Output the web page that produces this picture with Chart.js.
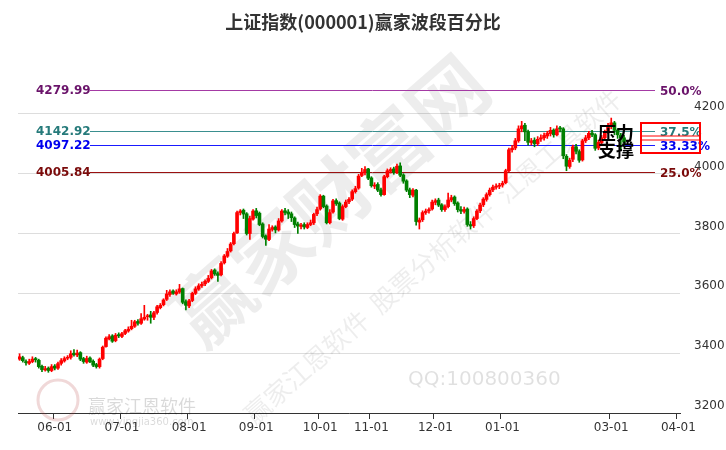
<!DOCTYPE html>
<html><head><meta charset="utf-8">
<script src="https://cdn.jsdelivr.net/npm/chart.js@4/dist/chart.umd.min.js"></script>
<style>html,body{margin:0;background:#fff}#wrap{width:726px;height:450px}</style>
</head><body><div id="wrap"><canvas id="c"></canvas></div>
<script>
const opens=[3380,3385,3372,3366,3372,3382,3376,3356,3344,3350,3342,3357,3350,3366,3374,3383,3386,3400,3394,3402,3382,3370,3384,3373,3362,3355,3382,3422,3448,3458,3442,3462,3456,3466,3474,3482,3490,3506,3500,3514,3522,3528,3520,3536,3552,3562,3580,3596,3608,3598,3604,3616,3572,3558,3576,3600,3614,3626,3632,3640,3652,3678,3666,3662,3702,3724,3742,3766,3802,3870,3878,3866,3800,3848,3876,3868,3832,3792,3780,3814,3822,3812,3842,3876,3872,3866,3852,3832,3824,3830,3820,3830,3836,3866,3882,3925,3892,3836,3872,3910,3902,3848,3890,3906,3915,3940,3952,3994,4004,4016,3986,3958,3964,3946,3930,3990,4008,4016,4004,4026,3996,3976,3946,3928,3945,3838,3846,3870,3876,3882,3904,3912,3896,3880,3890,3912,3922,3902,3880,3874,3882,3830,3826,3850,3876,3896,3914,3930,3946,3955,3958,3962,3970,4010,4080,4086,4110,4150,4162,4140,4104,4112,4100,4116,4120,4126,4134,4146,4130,4152,4150,4058,4024,4048,4090,4074,4046,4110,4120,4136,4130,4086,4104,4120,4140,4158,4170,4146,4128,4120];
const highs=[3398,3390,3378,3380,3388,3386,3380,3360,3356,3354,3362,3362,3370,3382,3388,3392,3408,3412,3410,3405,3386,3390,3388,3378,3366,3384,3424,3455,3462,3462,3466,3468,3470,3480,3488,3510,3510,3512,3532,3560,3530,3540,3540,3560,3566,3582,3610,3612,3612,3612,3630,3618,3578,3580,3604,3622,3632,3638,3645,3660,3680,3682,3672,3706,3730,3750,3770,3805,3875,3880,3882,3870,3858,3880,3884,3872,3836,3796,3830,3826,3826,3850,3880,3884,3880,3872,3856,3838,3834,3836,3836,3845,3868,3888,3930,3928,3896,3880,3914,3916,3906,3896,3912,3920,3946,3958,3998,4018,4024,4018,3990,3970,3970,3952,3995,4016,4020,4022,4032,4036,4000,3980,3952,3950,3948,3852,3876,3882,3886,3912,3916,3918,3900,3896,3935,3928,3926,3906,3890,3888,3886,3840,3856,3880,3902,3920,3936,3952,3962,3966,3968,3975,4015,4086,4095,4118,4160,4175,4168,4146,4118,4120,4124,4130,4136,4142,4155,4150,4160,4158,4154,4064,4052,4096,4098,4080,4115,4128,4142,4145,4134,4112,4128,4146,4168,4186,4175,4150,4135,4128];
const lows=[3376,3370,3360,3362,3368,3370,3350,3338,3340,3336,3338,3344,3346,3360,3370,3378,3380,3390,3388,3375,3366,3366,3368,3355,3350,3350,3378,3420,3444,3436,3438,3452,3452,3462,3470,3478,3486,3494,3496,3510,3510,3500,3512,3530,3548,3558,3576,3590,3596,3594,3600,3565,3545,3552,3572,3596,3610,3620,3626,3636,3648,3660,3640,3658,3698,3720,3738,3762,3800,3862,3850,3795,3780,3845,3852,3826,3785,3760,3776,3808,3802,3808,3838,3862,3850,3840,3820,3800,3815,3815,3816,3826,3830,3860,3878,3886,3832,3832,3868,3894,3846,3844,3886,3900,3910,3935,3948,3990,3996,3980,3955,3950,3940,3925,3928,3986,4002,3998,4000,3990,3968,3940,3920,3922,3828,3815,3840,3864,3868,3878,3896,3890,3874,3874,3886,3906,3894,3872,3866,3868,3824,3815,3820,3846,3870,3890,3908,3925,3940,3948,3950,3955,3966,4006,4072,4080,4105,4140,4110,4095,4096,4090,4094,4108,4112,4118,4126,4122,4126,4140,4050,4010,4018,4040,4066,4038,4042,4104,4114,4124,4078,4080,4098,4114,4134,4150,4130,4118,4080,4092];
const closes=[3388,3375,3368,3372,3380,3378,3355,3345,3348,3342,3355,3350,3365,3375,3382,3385,3398,3395,3400,3380,3372,3382,3372,3360,3355,3380,3420,3450,3455,3440,3460,3458,3465,3475,3480,3490,3505,3500,3515,3520,3525,3520,3535,3555,3560,3578,3598,3605,3600,3605,3615,3570,3560,3575,3600,3615,3625,3630,3640,3650,3675,3665,3660,3700,3725,3740,3765,3800,3870,3875,3865,3800,3850,3875,3860,3830,3790,3781,3815,3820,3812,3842,3875,3870,3865,3853,3830,3825,3828,3822,3830,3836,3864,3880,3925,3890,3836,3870,3909,3900,3850,3890,3905,3914,3940,3950,3992,4005,4014,3985,3960,3962,3945,3930,3990,4010,4014,4005,4025,3995,3975,3945,3930,3945,3840,3845,3870,3875,3880,3905,3910,3895,3880,3890,3912,3920,3900,3880,3875,3880,3830,3825,3850,3875,3895,3915,3930,3945,3955,3958,3960,3968,4010,4080,4085,4110,4150,4160,4140,4105,4110,4100,4115,4120,4128,4135,4145,4130,4150,4150,4060,4025,4045,4090,4075,4045,4110,4120,4135,4130,4085,4105,4120,4140,4160,4170,4145,4130,4120,4105];
const monthIdx=[11,32,53,74,94,110,130,151,185,206];
const monthText=['06-01','07-01','08-01','09-01','10-01','11-01','12-01','01-01','03-01','04-01'];
const levelValues=[4279.99,4142.92,4097.22,4005.84];
const levelPct=['50.0%','37.5%','33.33%','25.0%'];
const levelColors=['#a43aa4','#3a8f8f','#1a1aff','#9a1010'];
const levelTextColors=['#6a136a','#257a7a','#0000ee','#7a0a0a'];
const yTicks=[3200,3400,3600,3800,4000,4200];
const nSlots=207;

const labels=[];for(let i=0;i<nSlots;i++)labels.push(String(i));
const up=closes.map((c,i)=>c>=opens[i]);
const col=up.map(u=>u?'#ff0000':'#008000');

const overlay={id:'overlay',
beforeDatasetsDraw(ch){const {ctx,chartArea:a,scales:{y}}=ch;ctx.save();
 ctx.fillStyle='rgba(0,0,0,0.07)';
 ctx.translate(330,200);ctx.rotate(-0.72);ctx.font='bold 78px "Noto Sans CJK SC"';ctx.textAlign='center';ctx.textBaseline='middle';
 ctx.fillText('赢家财富网',0,0);
 ctx.font='26px "Noto Sans CJK SC"';ctx.fillText('赢家江恩软件  股票分析软件  江恩工具软件',40,110);
 ctx.setTransform(1,0,0,1,0,0);
 ctx.fillStyle='rgba(0,0,0,0.12)';ctx.font='20px "DejaVu Sans"';ctx.textAlign='left';ctx.fillText('QQ:100800360',408,380);
 ctx.fillStyle='rgba(0,0,0,0.15)';ctx.font='18px "Noto Sans CJK SC"';ctx.fillText('赢家江恩软件',88,406);
 ctx.font='10px "DejaVu Sans"';ctx.fillText('www.yingjia360.com',90,422);
 ctx.strokeStyle='rgba(180,60,60,0.2)';ctx.lineWidth=3;ctx.beginPath();ctx.arc(58,400,20,0,Math.PI*2);ctx.stroke();
 levelValues.forEach((v,i)=>{const py=Math.round(y.getPixelForValue(v))+0.5;
  ctx.strokeStyle=levelColors[i];ctx.lineWidth=1;ctx.beginPath();ctx.moveTo(90,py);ctx.lineTo(655,py);ctx.stroke();
  ctx.font='bold 12px "DejaVu Sans"';ctx.textBaseline='middle';ctx.textAlign='left';ctx.fillStyle=levelTextColors[i];
  ctx.fillText(v.toFixed(2),36,py);ctx.fillText(levelPct[i],660,py+1);});
 ctx.restore();},
afterDatasetsDraw(ch){const {ctx}=ch;ctx.save();
 ctx.strokeStyle='#ff0000';ctx.lineWidth=2;ctx.strokeRect(641,123,59,30);
 ctx.lineWidth=1;ctx.beginPath();ctx.moveTo(641,136);ctx.lineTo(700,136);ctx.moveTo(641,140);ctx.lineTo(700,140);ctx.stroke();
 ctx.fillStyle='#000';ctx.font='bold 18px "Noto Sans CJK SC"';ctx.textBaseline='middle';ctx.textAlign='left';
 ctx.fillText('压力',598,133);ctx.fillText('支撑',598,150);
 ctx.fillStyle='#333';ctx.font='bold 18px "Noto Sans CJK SC"';ctx.textAlign='center';ctx.fillText('上证指数(000001)赢家波段百分比',363,22);
 ctx.restore();}};

new Chart(document.getElementById('c'),{type:'bar',
data:{labels,datasets:[
 {data:closes.map((c,i)=>[lows[i],highs[i]]),backgroundColor:col,barThickness:1,grouped:false,order:2},
 {data:closes.map((c,i)=>[opens[i],c]),backgroundColor:col,barThickness:3,grouped:false,minBarLength:1,order:1}]},
options:{responsive:true,maintainAspectRatio:false,animation:false,
 layout:{padding:{top:69,left:18,right:0,bottom:0}},
 plugins:{legend:{display:false},tooltip:{enabled:false},title:{display:false}},
 scales:{
  x:{afterFit(s){s.height=37;},border:{color:'#333'},
   grid:{drawOnChartArea:false,tickLength:6,color:c=>monthIdx.includes(c.index)?'#333':'transparent'},
   ticks:{autoSkip:false,maxRotation:0,color:'#333',font:{size:12,family:'DejaVu Sans'},padding:2,
    callback:(v,i)=>{const k=monthIdx.indexOf(i);return k>=0?monthText[k]:'';}}},
  y:{position:'right',min:3200,max:4350,afterFit(s){s.width=46;},border:{display:false},
   afterBuildTicks(s){s.ticks=yTicks.map(v=>({value:v}));},
   grid:{color:'#dddddd',drawTicks:false},
   ticks:{color:'#333',font:{size:12,family:'DejaVu Sans'},padding:14,labelOffset:-7,callback:v=>String(v)}}}},
plugins:[overlay]});
</script></body></html>
